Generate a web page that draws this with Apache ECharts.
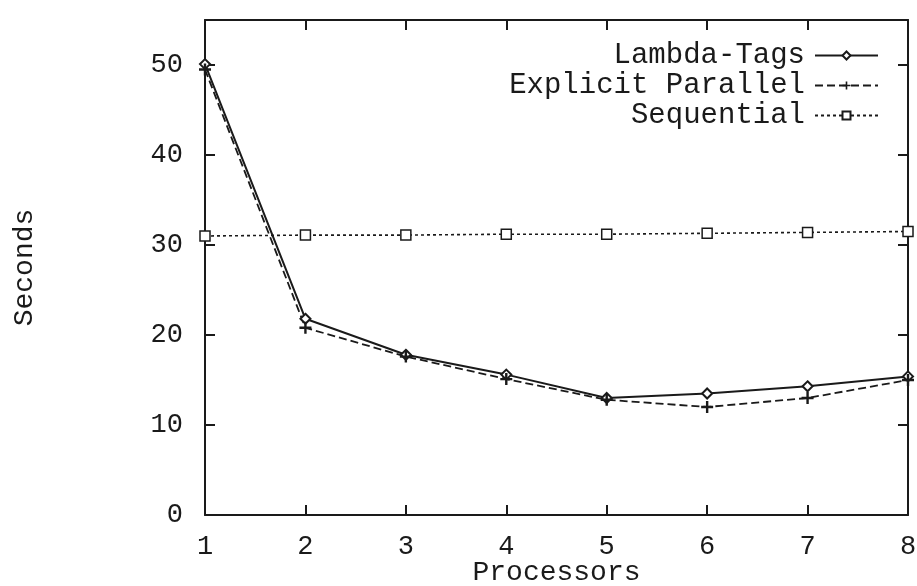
<!DOCTYPE html>
<html>
<head>
<meta charset="utf-8">
<script src="https://cdn.jsdelivr.net/npm/echarts@6/dist/echarts.min.js"></script>
<style>
  html, body { margin: 0; padding: 0; background: #fff; }
  #chart { width: 917px; height: 586px; }
</style>
</head>
<body>
<div id="chart"></div>
<script>
  const processors = [1, 2, 3, 4, 5, 6, 7, 8]
  const lambdaTags = [50.1, 21.8, 17.8, 15.6, 13.0, 13.5, 14.3, 15.4]
  const explicitParallel = [49.5, 20.8, 17.6, 15.1, 12.8, 12.0, 13.0, 15.0]
  const sequential = [31.0, 31.1, 31.1, 31.2, 31.2, 31.3, 31.4, 31.5]
  const yTicks = { min: 0, max: 55, interval: 10 }

  const font = '"Liberation Mono", "DejaVu Sans Mono", monospace'
  const ink = '#1a1a1a'
  const plus = 'path://M4,0h2v4h4v2h-4v4h-2v-4h-4v-2h4z'

  function pairs(ys) {
    return processors.map((x, i) => [x, ys[i]])
  }

  let chart = echarts.init(document.getElementById('chart'))

  // gnuplot style: frame on four sides, ticks pointing inwards
  const frameAxis = {
    axisLine: { show: true, onZero: false, lineStyle: { color: ink, width: 2 } },
    axisTick: { show: true, inside: true, length: 10, lineStyle: { color: ink, width: 2 } },
    splitLine: { show: false },
  }

  chart.setOption({
    animation: false,
    backgroundColor: '#fff',
    grid: { left: 205, right: 9, top: 20, bottom: 71, outerBoundsMode: 'none' },
    legend: {
      orient: 'vertical',
      right: 33,
      top: 36,
      align: 'right',
      itemWidth: 63,
      itemHeight: 10,
      itemGap: 1,
      textStyle: { fontFamily: font, fontSize: 29, color: ink, padding: [0, 5, 0, 0] },
      data: ['Lambda-Tags', 'Explicit Parallel', 'Sequential'],
    },
    xAxis: [
      {
        type: 'value',
        min: 1,
        max: 8,
        interval: 1,
        ...frameAxis,
        axisLabel: { margin: 18, fontFamily: font, fontSize: 27, color: ink },
        name: 'Processors',
        nameLocation: 'middle',
        nameGap: 44,
        nameMoveOverlap: false,
        nameTextStyle: { fontFamily: font, fontSize: 28, color: ink },
      },
      {
        type: 'value',
        position: 'top',
        min: 1,
        max: 8,
        interval: 1,
        ...frameAxis,
        axisLabel: { show: false },
      },
    ],
    yAxis: [
      {
        type: 'value',
        min: yTicks.min,
        max: yTicks.max,
        interval: yTicks.interval,
        ...frameAxis,
        axisLabel: {
          margin: 22,
          showMaxLabel: false,
          fontFamily: font,
          fontSize: 27,
          color: ink,
        },
        name: 'Seconds',
        nameLocation: 'middle',
        nameRotate: 90,
        nameGap: 166,
        nameTextStyle: { fontFamily: font, fontSize: 28, color: ink },
      },
      {
        type: 'value',
        position: 'right',
        min: yTicks.min,
        max: yTicks.max,
        interval: yTicks.interval,
        ...frameAxis,
        axisLabel: { show: false },
      },
    ],
    series: [
      {
        name: 'Lambda-Tags',
        type: 'line',
        data: pairs(lambdaTags),
        symbol: 'diamond',
        symbolSize: 10,
        lineStyle: { color: ink, width: 2, type: 'solid' },
        itemStyle: { color: '#fff', borderColor: ink, borderWidth: 2 },
      },
      {
        name: 'Explicit Parallel',
        type: 'line',
        data: pairs(explicitParallel),
        symbol: plus,
        symbolSize: 12,
        lineStyle: { color: ink, width: 1.8, type: [8, 4] },
        itemStyle: { color: ink },
      },
      {
        name: 'Sequential',
        type: 'line',
        data: pairs(sequential),
        symbol: 'rect',
        symbolSize: 10,
        lineStyle: { color: ink, width: 1.6, type: [3, 3] },
        itemStyle: { color: '#fff', borderColor: ink, borderWidth: 1.5 },
      },
    ],
  })
</script>
</body>
</html>
